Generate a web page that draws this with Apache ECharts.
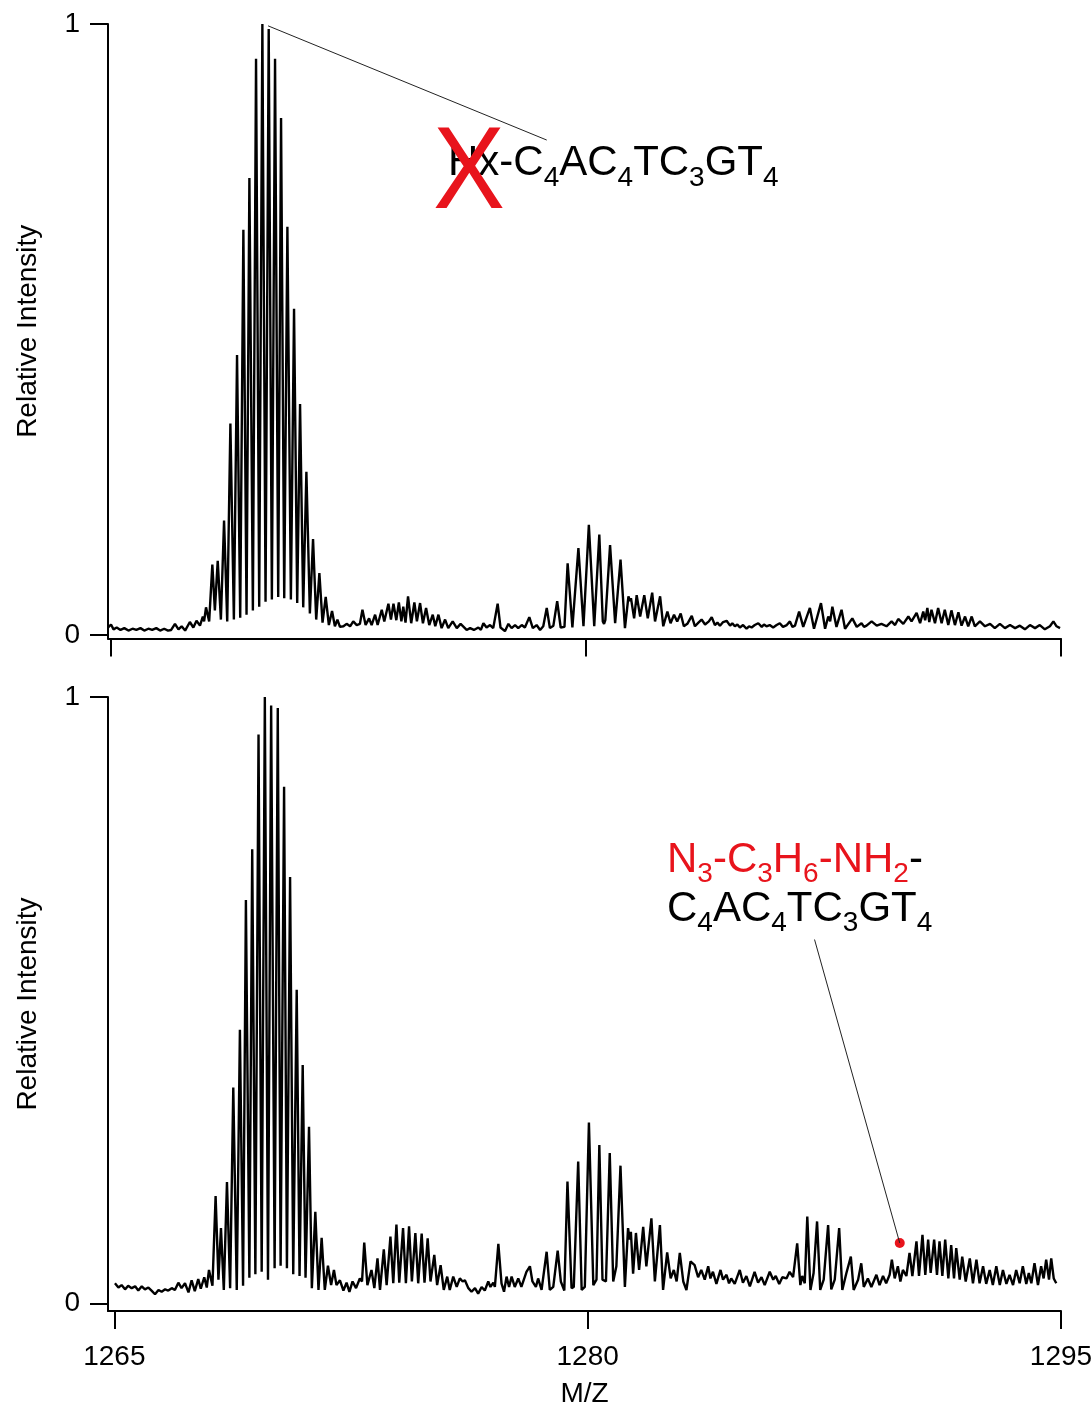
<!DOCTYPE html>
<html>
<head>
<meta charset="utf-8">
<title>Relative Intensity vs M/Z</title>
<script src="https://cdn.jsdelivr.net/npm/echarts@6.0.0/dist/echarts.min.js"></script>
<style>
  html, body { margin: 0; padding: 0; background: #fff; }
  #chart { width: 1092px; height: 1409px; }
</style>
</head>
<body>
<div id="chart"></div>
<script>
// axis ticks
const mzTicks = [1265, 1280, 1295]
const intensityTicks = [0, 1]

// upper spectrum, [m/z, relative intensity]
const topTrace = [
  [1264.91, 0.012], [1265.0, 0.017], [1265.08, 0.009], [1265.18, 0.012], [1265.3, 0.008], [1265.42, 0.011],
  [1265.55, 0.007], [1265.68, 0.010], [1265.8, 0.008], [1265.93, 0.011], [1266.05, 0.007], [1266.18, 0.010],
  [1266.3, 0.008], [1266.43, 0.011], [1266.55, 0.007], [1266.68, 0.010], [1266.8, 0.007], [1266.9, 0.008],
  [1267.02, 0.018], [1267.13, 0.009], [1267.23, 0.014], [1267.34, 0.007], [1267.49, 0.021], [1267.6, 0.012],
  [1267.7, 0.023], [1267.81, 0.015], [1267.9, 0.030], [1267.94, 0.022], [1268.0, 0.045], [1268.1, 0.022],
  [1268.2, 0.115], [1268.28, 0.040], [1268.37, 0.121], [1268.47, 0.025], [1268.57, 0.187], [1268.67, 0.022],
  [1268.77, 0.346], [1268.88, 0.025], [1268.98, 0.458], [1269.08, 0.028], [1269.18, 0.663], [1269.28, 0.033],
  [1269.37, 0.748], [1269.48, 0.040], [1269.58, 0.943], [1269.68, 0.046], [1269.78, 1.0], [1269.88, 0.054],
  [1269.98, 0.992], [1270.08, 0.058], [1270.18, 0.943], [1270.28, 0.062], [1270.37, 0.846], [1270.47, 0.060],
  [1270.57, 0.668], [1270.68, 0.058], [1270.78, 0.534], [1270.88, 0.052], [1270.97, 0.378], [1271.07, 0.045],
  [1271.17, 0.267], [1271.28, 0.035], [1271.38, 0.157], [1271.48, 0.025], [1271.58, 0.101], [1271.68, 0.020],
  [1271.78, 0.062], [1271.88, 0.016], [1271.98, 0.039], [1272.07, 0.014], [1272.15, 0.025], [1272.23, 0.013],
  [1272.34, 0.014], [1272.44, 0.018], [1272.55, 0.014], [1272.65, 0.022], [1272.76, 0.016], [1272.86, 0.018],
  [1272.94, 0.041], [1273.04, 0.016], [1273.15, 0.027], [1273.23, 0.016], [1273.34, 0.033], [1273.42, 0.016],
  [1273.55, 0.041], [1273.63, 0.022], [1273.76, 0.051], [1273.84, 0.025], [1273.92, 0.051], [1274.01, 0.024],
  [1274.09, 0.053], [1274.17, 0.022], [1274.23, 0.046], [1274.3, 0.020], [1274.38, 0.063], [1274.48, 0.019],
  [1274.58, 0.053], [1274.66, 0.022], [1274.76, 0.052], [1274.85, 0.019], [1274.95, 0.044], [1275.05, 0.016],
  [1275.16, 0.033], [1275.24, 0.014], [1275.34, 0.033], [1275.44, 0.011], [1275.55, 0.025], [1275.65, 0.011],
  [1275.79, 0.022], [1275.92, 0.011], [1276.04, 0.018], [1276.23, 0.008], [1276.34, 0.011], [1276.46, 0.008],
  [1276.6, 0.012], [1276.68, 0.008], [1276.76, 0.019], [1276.86, 0.012], [1276.97, 0.016], [1277.07, 0.011],
  [1277.21, 0.051], [1277.3, 0.012], [1277.36, 0.014], [1277.44, 0.006], [1277.55, 0.018], [1277.65, 0.011],
  [1277.76, 0.016], [1277.86, 0.011], [1277.97, 0.016], [1278.07, 0.012], [1278.21, 0.029], [1278.32, 0.011],
  [1278.44, 0.016], [1278.55, 0.008], [1278.65, 0.014], [1278.76, 0.044], [1278.86, 0.011], [1278.97, 0.015],
  [1279.09, 0.055], [1279.2, 0.012], [1279.32, 0.013], [1279.42, 0.117], [1279.57, 0.012], [1279.76, 0.142],
  [1279.92, 0.014], [1280.09, 0.180], [1280.26, 0.014], [1280.42, 0.164], [1280.53, 0.022], [1280.57, 0.018],
  [1280.61, 0.024], [1280.76, 0.147], [1280.92, 0.019], [1281.09, 0.123], [1281.23, 0.011], [1281.34, 0.063],
  [1281.39, 0.055], [1281.42, 0.060], [1281.52, 0.027], [1281.6, 0.065], [1281.71, 0.030], [1281.84, 0.065],
  [1281.95, 0.027], [1282.09, 0.069], [1282.18, 0.022], [1282.34, 0.063], [1282.44, 0.014], [1282.57, 0.038],
  [1282.67, 0.019], [1282.78, 0.033], [1282.88, 0.022], [1282.99, 0.035], [1283.09, 0.014], [1283.2, 0.018],
  [1283.34, 0.031], [1283.44, 0.014], [1283.55, 0.020], [1283.65, 0.025], [1283.76, 0.017], [1283.88, 0.022],
  [1283.97, 0.029], [1284.07, 0.016], [1284.15, 0.020], [1284.23, 0.015], [1284.33, 0.021], [1284.44, 0.023],
  [1284.55, 0.015], [1284.62, 0.019], [1284.7, 0.014], [1284.78, 0.017], [1284.86, 0.012], [1284.96, 0.016],
  [1285.07, 0.010], [1285.15, 0.014], [1285.23, 0.012], [1285.33, 0.016], [1285.44, 0.019], [1285.55, 0.013],
  [1285.62, 0.017], [1285.7, 0.014], [1285.8, 0.016], [1285.91, 0.012], [1286.02, 0.016], [1286.12, 0.019],
  [1286.22, 0.013], [1286.34, 0.016], [1286.44, 0.022], [1286.52, 0.013], [1286.6, 0.015], [1286.73, 0.038],
  [1286.86, 0.013], [1287.07, 0.044], [1287.2, 0.010], [1287.42, 0.052], [1287.55, 0.010], [1287.65, 0.030],
  [1287.71, 0.022], [1287.78, 0.046], [1287.91, 0.013], [1288.07, 0.041], [1288.18, 0.010], [1288.41, 0.027],
  [1288.55, 0.013], [1288.7, 0.019], [1288.78, 0.013], [1288.86, 0.015], [1289.02, 0.022], [1289.18, 0.015],
  [1289.33, 0.018], [1289.49, 0.014], [1289.65, 0.022], [1289.76, 0.016], [1289.86, 0.026], [1290.02, 0.018],
  [1290.18, 0.030], [1290.28, 0.022], [1290.44, 0.036], [1290.55, 0.019], [1290.65, 0.038], [1290.71, 0.024],
  [1290.78, 0.044], [1290.84, 0.021], [1290.91, 0.041], [1291.02, 0.019], [1291.12, 0.044], [1291.23, 0.019],
  [1291.33, 0.041], [1291.44, 0.016], [1291.54, 0.040], [1291.65, 0.016], [1291.76, 0.037], [1291.86, 0.015],
  [1291.97, 0.030], [1292.07, 0.014], [1292.18, 0.030], [1292.28, 0.014], [1292.44, 0.022], [1292.6, 0.014],
  [1292.76, 0.018], [1292.91, 0.011], [1293.07, 0.018], [1293.23, 0.011], [1293.39, 0.016], [1293.55, 0.011],
  [1293.7, 0.015], [1293.86, 0.009], [1294.02, 0.016], [1294.18, 0.011], [1294.33, 0.016], [1294.49, 0.009],
  [1294.65, 0.014], [1294.76, 0.022], [1294.86, 0.014], [1294.97, 0.011]
]

// lower spectrum
const bottomTrace = [
  [1265.02, 0.033], [1265.13, 0.026], [1265.23, 0.030], [1265.34, 0.023], [1265.44, 0.029], [1265.55, 0.025],
  [1265.66, 0.028], [1265.76, 0.021], [1265.87, 0.028], [1265.97, 0.023], [1266.08, 0.026], [1266.18, 0.021],
  [1266.29, 0.015], [1266.4, 0.022], [1266.5, 0.019], [1266.61, 0.023], [1266.71, 0.021], [1266.82, 0.025],
  [1266.92, 0.022], [1267.03, 0.034], [1267.13, 0.025], [1267.24, 0.033], [1267.35, 0.018], [1267.45, 0.038],
  [1267.55, 0.020], [1267.66, 0.040], [1267.74, 0.024], [1267.85, 0.043], [1267.93, 0.026], [1268.0, 0.055],
  [1268.11, 0.029], [1268.21, 0.177], [1268.3, 0.039], [1268.38, 0.124], [1268.47, 0.022], [1268.57, 0.200],
  [1268.67, 0.025], [1268.77, 0.356], [1268.88, 0.022], [1268.98, 0.451], [1269.08, 0.029], [1269.17, 0.665],
  [1269.28, 0.042], [1269.37, 0.749], [1269.47, 0.048], [1269.57, 0.938], [1269.67, 0.052], [1269.77, 1.0],
  [1269.87, 0.039], [1269.97, 0.986], [1270.08, 0.058], [1270.18, 0.982], [1270.27, 0.062], [1270.38, 0.852],
  [1270.47, 0.058], [1270.57, 0.703], [1270.67, 0.048], [1270.78, 0.517], [1270.87, 0.045], [1270.97, 0.393],
  [1271.06, 0.042], [1271.17, 0.291], [1271.26, 0.025], [1271.37, 0.151], [1271.47, 0.022], [1271.57, 0.108],
  [1271.67, 0.022], [1271.77, 0.062], [1271.87, 0.030], [1271.96, 0.055], [1272.04, 0.030], [1272.15, 0.038],
  [1272.26, 0.021], [1272.36, 0.034], [1272.45, 0.019], [1272.55, 0.036], [1272.66, 0.025], [1272.78, 0.041],
  [1272.85, 0.036], [1272.92, 0.100], [1273.02, 0.030], [1273.15, 0.055], [1273.24, 0.025], [1273.34, 0.074],
  [1273.42, 0.022], [1273.54, 0.089], [1273.63, 0.030], [1273.75, 0.110], [1273.84, 0.033], [1273.94, 0.130],
  [1274.03, 0.034], [1274.15, 0.124], [1274.24, 0.033], [1274.34, 0.127], [1274.43, 0.036], [1274.54, 0.116],
  [1274.63, 0.033], [1274.74, 0.115], [1274.83, 0.034], [1274.93, 0.107], [1275.02, 0.036], [1275.14, 0.080],
  [1275.23, 0.030], [1275.34, 0.063], [1275.44, 0.022], [1275.55, 0.044], [1275.63, 0.022], [1275.74, 0.044],
  [1275.85, 0.027], [1275.95, 0.041], [1276.04, 0.036], [1276.11, 0.038], [1276.22, 0.025], [1276.32, 0.019],
  [1276.43, 0.025], [1276.53, 0.016], [1276.64, 0.027], [1276.74, 0.021], [1276.85, 0.036], [1276.92, 0.027],
  [1277.01, 0.034], [1277.06, 0.027], [1277.17, 0.098], [1277.27, 0.033], [1277.35, 0.019], [1277.43, 0.044],
  [1277.51, 0.027], [1277.59, 0.044], [1277.69, 0.027], [1277.8, 0.041], [1277.9, 0.027], [1278.06, 0.052],
  [1278.17, 0.061], [1278.25, 0.036], [1278.36, 0.027], [1278.43, 0.041], [1278.54, 0.022], [1278.7, 0.085],
  [1278.8, 0.022], [1278.91, 0.027], [1279.05, 0.087], [1279.15, 0.036], [1279.26, 0.021], [1279.36, 0.201],
  [1279.49, 0.025], [1279.56, 0.027], [1279.7, 0.234], [1279.81, 0.022], [1279.91, 0.027], [1280.04, 0.298],
  [1280.18, 0.030], [1280.28, 0.039], [1280.37, 0.261], [1280.47, 0.039], [1280.58, 0.036], [1280.7, 0.248],
  [1280.81, 0.036], [1280.91, 0.061], [1281.04, 0.227], [1281.18, 0.027], [1281.28, 0.124], [1281.33, 0.105],
  [1281.37, 0.118], [1281.44, 0.049], [1281.53, 0.116], [1281.63, 0.055], [1281.76, 0.126], [1281.86, 0.061],
  [1282.02, 0.140], [1282.13, 0.036], [1282.29, 0.129], [1282.39, 0.022], [1282.52, 0.084], [1282.63, 0.041],
  [1282.73, 0.055], [1282.82, 0.036], [1282.92, 0.083], [1283.03, 0.036], [1283.13, 0.022], [1283.26, 0.069],
  [1283.39, 0.063], [1283.5, 0.043], [1283.6, 0.055], [1283.71, 0.039], [1283.82, 0.061], [1283.89, 0.041],
  [1283.97, 0.052], [1284.08, 0.032], [1284.21, 0.055], [1284.29, 0.039], [1284.4, 0.047], [1284.48, 0.033],
  [1284.55, 0.041], [1284.66, 0.032], [1284.82, 0.055], [1284.92, 0.034], [1285.03, 0.045], [1285.14, 0.028],
  [1285.29, 0.052], [1285.4, 0.034], [1285.51, 0.043], [1285.61, 0.030], [1285.77, 0.052], [1285.88, 0.039],
  [1285.96, 0.045], [1286.07, 0.032], [1286.17, 0.043], [1286.3, 0.041], [1286.4, 0.052], [1286.51, 0.043],
  [1286.64, 0.099], [1286.74, 0.030], [1286.8, 0.045], [1286.88, 0.033], [1286.96, 0.143], [1287.06, 0.022],
  [1287.16, 0.050], [1287.27, 0.135], [1287.37, 0.022], [1287.48, 0.039], [1287.62, 0.129], [1287.72, 0.023],
  [1287.83, 0.039], [1287.97, 0.124], [1288.07, 0.022], [1288.2, 0.050], [1288.34, 0.077], [1288.43, 0.022],
  [1288.57, 0.039], [1288.67, 0.066], [1288.75, 0.027], [1288.88, 0.041], [1288.99, 0.027], [1289.15, 0.047],
  [1289.25, 0.030], [1289.36, 0.045], [1289.46, 0.033], [1289.57, 0.047], [1289.64, 0.072], [1289.73, 0.041],
  [1289.83, 0.061], [1289.91, 0.036], [1289.99, 0.055], [1290.1, 0.045], [1290.2, 0.083], [1290.29, 0.045],
  [1290.42, 0.102], [1290.5, 0.045], [1290.61, 0.113], [1290.7, 0.047], [1290.79, 0.105], [1290.87, 0.050],
  [1290.98, 0.105], [1291.07, 0.047], [1291.15, 0.102], [1291.24, 0.045], [1291.33, 0.105], [1291.43, 0.041],
  [1291.52, 0.096], [1291.61, 0.041], [1291.68, 0.091], [1291.79, 0.039], [1291.87, 0.077], [1291.98, 0.036],
  [1292.11, 0.074], [1292.21, 0.033], [1292.32, 0.072], [1292.42, 0.033], [1292.53, 0.061], [1292.63, 0.032],
  [1292.74, 0.055], [1292.84, 0.030], [1292.95, 0.061], [1293.06, 0.030], [1293.16, 0.055], [1293.27, 0.032],
  [1293.37, 0.047], [1293.48, 0.030], [1293.58, 0.055], [1293.69, 0.033], [1293.79, 0.061], [1293.9, 0.032],
  [1293.98, 0.050], [1294.06, 0.033], [1294.16, 0.066], [1294.27, 0.030], [1294.37, 0.061], [1294.45, 0.041],
  [1294.53, 0.072], [1294.62, 0.039], [1294.69, 0.074], [1294.77, 0.041], [1294.85, 0.033]
]

// annotation leaders (data coords)
const topLeader = [[1269.96, 0.997], [1278.76, 0.81]]
const bottomLeader = [[1287.19, 0.6], [1289.89, 0.0995]]
const bottomMarker = [[1289.89, 0.0995]]

const FONT = '"Liberation Sans", Arial, Helvetica, sans-serif'
const RED = '#e8141c'

function makeX(idx, min, withLabels) {
  return {
    type: 'value',
    gridIndex: idx,
    min: min,
    max: 1295,
    name: withLabels ? 'M/Z' : '',
    nameLocation: 'middle',
    nameGap: 69,
    nameTextStyle: { fontFamily: FONT, fontSize: 28, color: '#000' },
    axisLine: { show: true, onZero: false, lineStyle: { color: '#000', width: 2 } },
    axisTick: { show: true, length: 18, customValues: mzTicks, lineStyle: { color: '#000', width: 2 } },
    axisLabel: {
      show: withLabels, customValues: mzTicks, margin: 32, hideOverlap: false,
      formatter: v => String(v),
      fontFamily: FONT, fontSize: 28, color: '#000'
    },
    splitLine: { show: false }
  }
}

function makeY(idx, min) {
  return {
    type: 'value',
    gridIndex: idx,
    min: min,
    max: 1,
    name: 'Relative Intensity',
    nameLocation: 'middle',
    nameGap: 66,
    nameRotate: 90,
    nameTextStyle: { fontFamily: FONT, fontSize: 28, color: '#000' },
    axisLine: { show: true, onZero: false, lineStyle: { color: '#000', width: 2 } },
    axisTick: { show: true, length: 18, customValues: intensityTicks, lineStyle: { color: '#000', width: 2 } },
    axisLabel: {
      show: true, customValues: intensityTicks, margin: 28, hideOverlap: false,
      formatter: v => String(v),
      fontFamily: FONT, fontSize: 28, color: '#000'
    },
    splitLine: { show: false }
  }
}

const chart = echarts.init(document.getElementById('chart'), null, { renderer: 'canvas' })

// rich text pieces: main glyphs hang from the line top, subscripts sit on the line bottom
function mainTok(fill) {
  return { fontFamily: FONT, fontSize: 42, lineHeight: 42, fill: fill, verticalAlign: 'top' }
}
function subTok(fill, lh) {
  return { fontFamily: FONT, fontSize: 28, lineHeight: lh, fill: fill, verticalAlign: 'bottom' }
}

chart.setOption({
  backgroundColor: '#fff',
  animation: false,
  grid: [
    { left: 108, top: 24, width: 953, height: 614.5, outerBoundsMode: 'none' },
    { left: 108, top: 697, width: 953, height: 614, outerBoundsMode: 'none' }
  ],
  xAxis: [makeX(0, 1264.905, false), makeX(1, 1264.8, true)],
  yAxis: [makeY(0, -0.006), makeY(1, -0.0127)],
  series: [
    {
      type: 'line', xAxisIndex: 0, yAxisIndex: 0, data: topTrace,
      showSymbol: false, lineStyle: { color: '#000', width: 2.4 }, silent: true
    },
    {
      type: 'line', xAxisIndex: 1, yAxisIndex: 1, data: bottomTrace,
      showSymbol: false, lineStyle: { color: '#000', width: 2.4 }, silent: true
    },
    {
      type: 'line', xAxisIndex: 0, yAxisIndex: 0, data: topLeader,
      showSymbol: false, lineStyle: { color: '#222', width: 1 }, silent: true
    },
    {
      type: 'line', xAxisIndex: 1, yAxisIndex: 1, data: bottomLeader,
      showSymbol: false, lineStyle: { color: '#222', width: 1 }, silent: true
    },
    {
      type: 'scatter', xAxisIndex: 1, yAxisIndex: 1, data: bottomMarker,
      symbol: 'circle', symbolSize: 10, itemStyle: { color: RED, opacity: 1 }, silent: true
    }
  ],
  graphic: [
    {
      type: 'text', x: 448, y: 142, z: 10,
      style: {
        text: '{m|Hx-C}{s|4}{m|AC}{s|4}{m|TC}{s|3}{m|GT}{s|4}',
        verticalAlign: 'top',
        rich: { m: mainTok('#000'), s: subTok('#000', 50) }
      }
    },
    {
      type: 'text', x: 469, y: 176, z: 11, scaleX: 0.93,
      style: {
        text: 'X', fill: RED, fontFamily: FONT, fontSize: 116,
        align: 'center', verticalAlign: 'middle'
      }
    },
    {
      type: 'text', x: 667, y: 839, z: 10,
      style: {
        text: '{r|N}{rs|3}{r|-C}{rs|3}{r|H}{rs|6}{r|-NH}{rs|2}{k|-}\n' +
              '{k|C}{ks|4}{k|AC}{ks|4}{k|TC}{ks|3}{k|GT}{ks|4}',
        verticalAlign: 'top',
        rich: {
          r: mainTok(RED), rs: subTok(RED, 49),
          k: mainTok('#000'), ks: subTok('#000', 49)
        }
      }
    }
  ]
})
</script>
</body>
</html>
